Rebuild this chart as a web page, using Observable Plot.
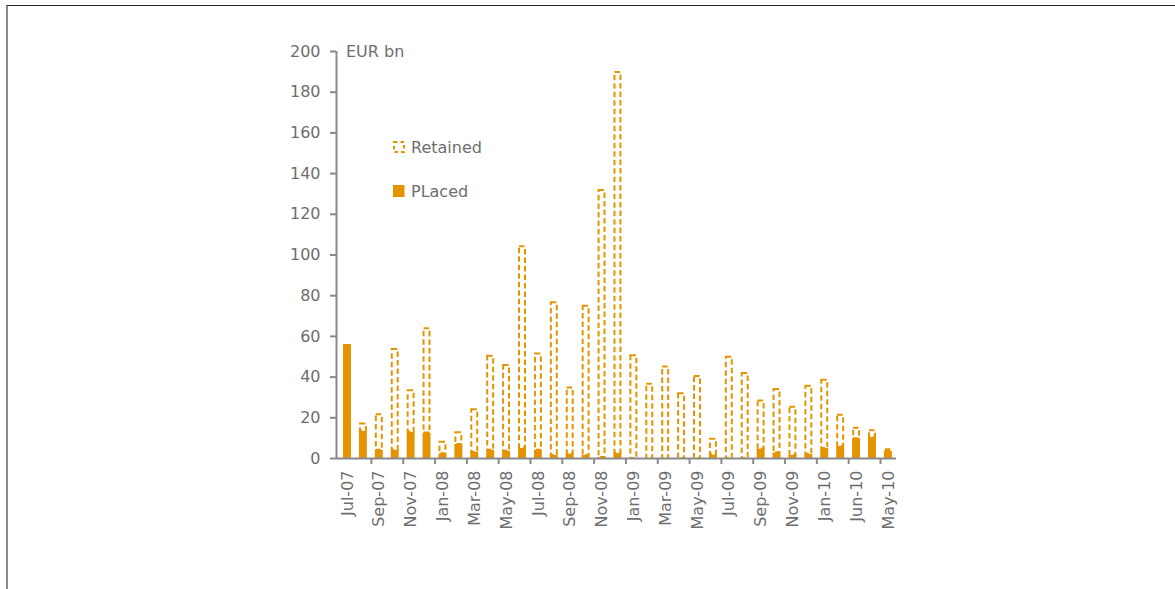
<!DOCTYPE html>
<html><head><meta charset="utf-8">
<script src="https://cdn.jsdelivr.net/npm/d3@7"></script>
<script src="https://cdn.jsdelivr.net/npm/@observablehq/plot@0.6"></script>
<style>
html,body{margin:0;padding:0;background:#fff;}
#wrap{position:relative;width:1175px;height:589px;overflow:hidden;font-family:"DejaVu Sans",Verdana,sans-serif;}
#frame{position:absolute;left:6px;top:5px;width:1200px;height:700px;border-top:1px solid #222;border-left:2px solid #8a8a8a;}
#chart{position:absolute;left:0;top:0;}
#legend{position:absolute;left:0;top:0;}
</style>
</head><body>
<div id="wrap"><div id="frame"></div><div id="chart"></div><svg id="legend" width="1175" height="589"></svg></div>
<script>
const months = ["Jul-07","Aug-07","Sep-07","Oct-07","Nov-07","Dec-07","Jan-08","Feb-08","Mar-08","Apr-08","May-08","Jun-08","Jul-08","Aug-08","Sep-08","Oct-08","Nov-08","Dec-08","Jan-09","Feb-09","Mar-09","Apr-09","May-09","Jun-09","Jul-09","Aug-09","Sep-09","Oct-09","Nov-09","Dec-09","Jan-10","Feb-10","Mar-10","Apr-10","May-10"];
const placed = [56,13.4,4,4,13,12.5,2.3,6.9,3.1,4,3.6,5,4,1.5,2.3,1.5,0.5,2.6,0,0,0,0,0,1.8,0,0,4.7,2.8,1.5,2.1,4.9,5.9,9.7,10.5,3.5];
const retained = [0,3.6,17.5,49.6,20.3,51.2,5.7,5.7,20.9,46.3,42.1,99,47.3,75,32.4,73.3,131.2,187.1,50.5,36.5,45,31.8,40.3,7.7,49.8,41.8,23.6,31.1,23.7,33.4,33.6,15.4,5.2,3.1,0.8];
const tickLabels = ["Jul-07","Sep-07","Nov-07","Jan-08","Mar-08","May-08","Jul-08","Sep-08","Nov-08","Jan-09","Mar-09","May-09","Jul-09","Sep-09","Nov-09","Jan-10","Jun-10","May-10"];
const yTicks = [0,20,40,60,80,100,120,140,160,180,200];
const seriesNames = ["Retained","PLaced"];

const ORANGE = "#E59400";
const GRAY = "#8a8a8a";
const TEXT = "#6e6e6e";
const rows = months.map((m,i)=>({month:m, placed:placed[i], retained:retained[i]}));
const labelMonths = months.filter((m,i)=>i%2===0);
const labelOf = new Map(labelMonths.map((m,i)=>[m, tickLabels[i]]));
const boundaryMonths = months.filter((m,i)=>i%2===1);

const chart = Plot.plot({
  width:1175, height:589,
  marginLeft:336, marginRight:279, marginTop:51, marginBottom:131,
  style:{fontFamily:"'DejaVu Sans', Verdana, sans-serif", fontSize:"16px", color:TEXT, background:"transparent"},
  x:{type:"band", domain:months, paddingInner:0.5, paddingOuter:0.35, align:0.63},
  y:{domain:[0,200]},
  marks:[
    Plot.barY(rows, {x:"month", y1:0, y2:"placed", fill:ORANGE}),
    Plot.barY(rows.filter(d=>d.retained>0), {x:"month", y1:"placed", y2:d=>d.placed+d.retained, fill:"white", stroke:ORANGE, strokeWidth:2, strokeDasharray:"5.5,3", insetLeft:1, insetRight:1}),
    Plot.ruleY([0], {stroke:GRAY, strokeWidth:2}),
    Plot.ruleX([months[0]], {y1:0, y2:200, dx:-11, stroke:GRAY, strokeWidth:2}),
    Plot.ruleX(boundaryMonths, {y1:0, y2:0, insetBottom:-6, dx:8, stroke:GRAY, strokeWidth:2}),
    Plot.axisY({ticks:yTicks, tickSize:6, tickPadding:10, label:null, stroke:GRAY, strokeWidth:2}),
    Plot.axisX({ticks:labelMonths, tickFormat:d=>labelOf.get(d), tickRotate:-90, tickSize:0, tickPadding:12, label:null}),
    Plot.text(["EUR bn"], {frameAnchor:"top-left", lineAnchor:"middle", dx:9.5, textAnchor:"start", fill:TEXT})
  ]
});
document.getElementById("chart").appendChild(chart);

// legend
const lg = d3.select("#legend");
const items = [
  {name:seriesNames[0], y:141, dashed:true},
  {name:seriesNames[1], y:185, dashed:false}
];
items.forEach(it=>{
  lg.append("rect").attr("x", it.dashed?394:393).attr("y", it.dashed?142:it.y).attr("width", it.dashed?10:11.5).attr("height", it.dashed?10:12)
    .attr("fill", it.dashed?"white":ORANGE).attr("stroke", it.dashed?ORANGE:"none").attr("stroke-width", 2)
    .attr("stroke-dasharray", it.dashed?"3.5,3":null);
  lg.append("text").attr("x",411).attr("y",it.y+12).attr("fill",TEXT)
    .style("font-family","'DejaVu Sans', Verdana, sans-serif").style("font-size","16px").text(it.name);
});
</script>
</body></html>
